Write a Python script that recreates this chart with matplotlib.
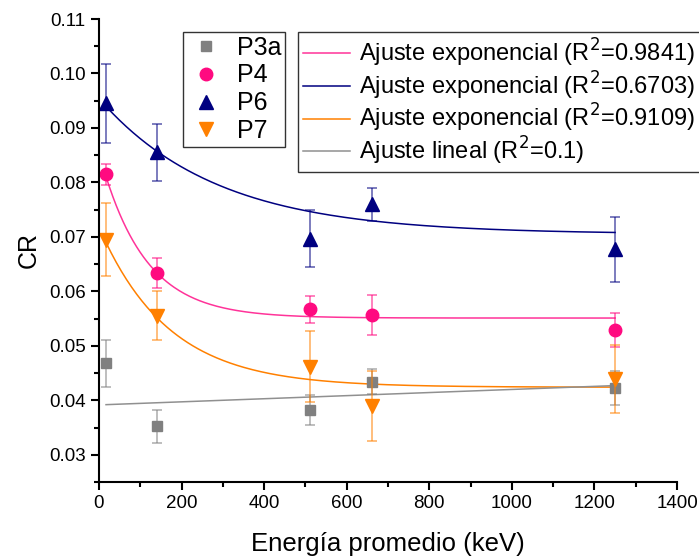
import numpy as np
import matplotlib
matplotlib.use('Agg')
import matplotlib.pyplot as plt
from matplotlib.ticker import MultipleLocator
from matplotlib.lines import Line2D

plt.rcParams['font.family'] = ['Liberation Sans', 'DejaVu Sans']

# energia promedio (keV)
energia = [17, 140, 511, 662, 1250]

p3a = [0.0468, 0.0352, 0.0382, 0.0434, 0.0423]
p3a_err = [0.0043, 0.0030, 0.0028, 0.0023, 0.0031]
p4 = [0.0815, 0.0634, 0.0567, 0.0556, 0.0529]
p4_err = [0.0019, 0.0028, 0.0025, 0.0037, 0.0032]
p6 = [0.0945, 0.0855, 0.0697, 0.0760, 0.0677]
p6_err = [0.0073, 0.0052, 0.0053, 0.0030, 0.0060]
p7 = [0.0695, 0.0555, 0.0462, 0.0389, 0.0439]
p7_err = [0.0067, 0.0045, 0.0065, 0.0064, 0.0063]

# parametros de ajuste y = y0 + A*exp(-x/t)
fit_p4 = (0.0551, 0.0304, 108.0)
fit_p6 = (0.0705, 0.0249, 285.0)
fit_p7 = (0.0424, 0.0294, 168.0)
# ajuste lineal y = a + b*x
fit_p3a = (0.03915, 2.84e-6)

r2_labels = ['Ajuste exponencial (R$^2$=0.9841)',
             'Ajuste exponencial (R$^2$=0.6703)',
             'Ajuste exponencial (R$^2$=0.9109)',
             'Ajuste lineal (R$^2$=0.1)']

c_gray = '#808080'
c_pink = '#FF0A80'
c_navy = '#000080'
c_orange = '#FF8000'

fig = plt.figure(figsize=(6.99, 5.58), dpi=100)
ax = fig.add_axes([99/699, 1-482/558, (677-99)/699, (482-19)/558])

xf = np.linspace(energia[0], energia[-1], 300)
def expdec(p):
    return p[0] + p[1]*np.exp(-xf/p[2])

ax.plot(xf, expdec(fit_p4), color='#FF3399', lw=1.1)
ax.plot(xf, expdec(fit_p6), color=c_navy, lw=1.1)
ax.plot(xf, expdec(fit_p7), color=c_orange, lw=1.1)
ax.plot(xf, fit_p3a[0] + fit_p3a[1]*xf, color='#909090', lw=1.1)

series = [(p3a, p3a_err, c_gray, 's', 7.5),
          (p4, p4_err, c_pink, 'o', 9),
          (p6, p6_err, c_navy, '^', 10),
          (p7, p7_err, c_orange, 'v', 10)]
handles1 = []
for y, e, c, m, ms in series:
    ax.errorbar(energia, y, yerr=e, fmt='none', ecolor=c, alpha=0.65,
                elinewidth=1.1, capsize=3.5, capthick=1.1)
    h, = ax.plot(energia, y, linestyle='none', marker=m, ms=ms, color=c,
                 markeredgecolor=c)
    handles1.append(h)

ax.set_xlim(0, 1400)
ax.set_ylim(0.025, 0.11)
ax.xaxis.set_major_locator(MultipleLocator(200))
ax.xaxis.set_minor_locator(MultipleLocator(100))
ax.yaxis.set_minor_locator(MultipleLocator(0.005))
ax.set_yticks([0.03, 0.04, 0.05, 0.06, 0.07, 0.08, 0.09, 0.10, 0.11])
ax.set_yticklabels(['0.03', '0.04', '0.05', '0.06', '0.07', '0.08', '0.09', '0.10', '0.11'])
ax.spines['top'].set_visible(False)
ax.spines['right'].set_visible(False)
ax.spines['left'].set_linewidth(1.5)
ax.spines['bottom'].set_linewidth(1.5)
ax.tick_params(which='major', direction='out', length=6, width=1.5, labelsize=13.5)
ax.tick_params(which='minor', direction='out', length=3.5, width=1.5)
ax.set_xlabel('Energía promedio (keV)', fontsize=18.5, labelpad=14)
ax.set_ylabel('CR', fontsize=18, labelpad=6)

leg1 = fig.legend(handles1, ['P3a', 'P4', 'P6', 'P7'], loc='upper left',
                  bbox_to_anchor=(183/699, 1-32/558), fontsize=18,
                  frameon=True, fancybox=False, edgecolor='black',
                  borderaxespad=0, handletextpad=0.5, labelspacing=0.15,
                  handlelength=1.5, borderpad=0.15)
leg1.get_frame().set_linewidth(1.0)

handles2 = [Line2D([], [], color='#FF3399', lw=1.1),
            Line2D([], [], color=c_navy, lw=1.1),
            Line2D([], [], color=c_orange, lw=1.1),
            Line2D([], [], color='#909090', lw=1.1)]
leg2 = fig.legend(handles2, r2_labels, loc='upper left',
                  bbox_to_anchor=(298/699, 1-32/558), fontsize=17,
                  frameon=True, fancybox=False, edgecolor='black',
                  borderaxespad=0, handletextpad=0.4, labelspacing=0.02,
                  handlelength=2.0, borderpad=0.2)
leg2.get_frame().set_linewidth(1.0)

fig.savefig('out.png', dpi=100)
